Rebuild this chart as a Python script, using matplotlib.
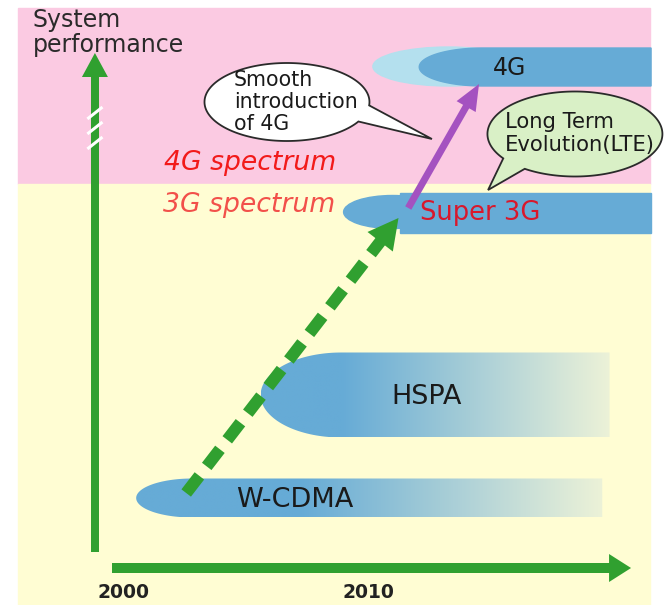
import numpy as np
import matplotlib.pyplot as plt
from matplotlib.patches import Rectangle, Ellipse, Polygon

# -------------------------
# Dados (x em anos, y em "desempenho" arbitrário)
# -------------------------
tech_names = ["W-CDMA", "HSPA", "Super 3G", "4G"]
tech_start = [2000.5, 2005.6, 2009.0, 2012.1]
tech_end = [2019.6, 2019.9, 2021.6, 2021.6]
tech_fade = [2007.2, 2008.9, np.nan, np.nan]
tech_level = [107, 210, 392, 538]
tech_spread = [39, 85, 40, 38]

year_ticks = [2000, 2010]
spectrum_labels = ["4G spectrum", "3G spectrum"]
spectrum_border = 421

# setas de evolução (início -> fim)
wcdma_to_s3g = [(2002.55, 112), (2011.25, 387)]
s3g_to_4g = [(2011.65, 397), (2014.55, 521)]

# cores
BLUE = np.array([0x66, 0xab, 0xd6]) / 255
PALE = np.array([0xec, 0xf2, 0xd8]) / 255
LIGHT = '#b4e0ee'
PINK = '#fbcae2'
YELLOW = '#fffdd3'
GREEN = '#30a030'
PURPLE = '#a452c0'

fig = plt.figure(figsize=(6.64, 6.05), dpi=100)
ax = fig.add_axes([0, 0, 1, 1])
X0, X1 = 1994.92, 2022.13
ax.set_xlim(X0, X1)
ax.set_ylim(0, 605)
ax.axis("off")

# -------------------------
# Fundo (faixas de espectro)
# -------------------------
ax.add_patch(Rectangle((1995.66, spectrum_border), 25.9, 176, color=PINK, zorder=0))
ax.add_patch(Rectangle((1995.66, 0), 25.9, spectrum_border, color=YELLOW, zorder=0))


def rounded_bar(x0, x1, yc, h, cap):
    a = np.linspace(np.pi / 2, 3 * np.pi / 2, 80)
    cx = x0 + cap
    pts = list(zip(cx + cap * np.cos(a), yc + h / 2 * np.sin(a)))
    pts += [(x1, yc - h / 2), (x1, yc + h / 2)]
    return np.array(pts)


def gradient_bar(x0, x1, yc, h, cap, fade):
    poly = Polygon(rounded_bar(x0, x1, yc, h, cap), closed=True, fc='none', ec='none')
    ax.add_patch(poly)
    xs = np.linspace(x0, x1, 300)
    t = np.clip((xs - fade) / (x1 - fade), 0, 1)
    cols = (1 - t)[:, None] * BLUE + t[:, None] * PALE
    img = np.tile(cols[None, :, :], (2, 1, 1))
    im = ax.imshow(img, extent=[x0, x1, yc - h / 2, yc + h / 2], aspect='auto',
                   interpolation='bilinear', zorder=2)
    im.set_clip_path(poly)


def arrow(p0, p1, color, lw_px, head_len, head_w, dashes=None, z=5):
    T = ax.transData
    a = T.transform(p0)
    b = T.transform(p1)
    d = b - a
    u = d / np.hypot(*d)
    n = np.array([-u[1], u[0]])
    base = b - u * head_len
    head = np.array([b, base + n * head_w / 2, base - n * head_w / 2])
    head = T.inverted().transform(head)
    base_d = T.inverted().transform(base + u * 1.0)
    ls = '-' if dashes is None else (0, dashes)
    ax.plot([p0[0], base_d[0]], [p0[1], base_d[1]], color=color, lw=lw_px * 0.72,
            ls=ls, solid_capstyle='butt', dash_capstyle='butt', zorder=z)
    ax.add_patch(Polygon(head, closed=True, fc=color, ec='none', zorder=z))


def bubble(cx, cy, w, h, a1, a2, tip, fc):
    a = np.radians(np.linspace(a2, a1 + 360, 240))
    pts = np.column_stack([cx + w / 2 * np.cos(a), cy + h / 2 * np.sin(a)])
    pts = np.vstack([pts, tip])
    ax.add_patch(Polygon(pts, closed=True, fc=fc, ec='#2a2a2a', lw=1.3, zorder=7))


# -------------------------
# Tecnologias
# -------------------------
# W-CDMA e HSPA com degradê
gradient_bar(tech_start[0], tech_end[0], tech_level[0], tech_spread[0], 2.3, tech_fade[0])
gradient_bar(tech_start[1], tech_end[1], tech_level[1], tech_spread[1], 3.3, tech_fade[1])

# Super 3G: elipse + barra
ax.add_patch(Ellipse((tech_start[2] + 2.0, tech_level[2] + 1), 4.0, 33, color=BLUE, zorder=2))
ax.add_patch(Rectangle((tech_start[2] + 2.3, tech_level[2] - tech_spread[2] / 2),
                       tech_end[2] - tech_start[2] - 2.3, tech_spread[2], color=BLUE, zorder=2))

# 4G: elipse clara + barra arredondada
ax.add_patch(Ellipse((tech_start[3] + 1.2, tech_level[3] + 0.5), 6.2, 39, color=LIGHT, zorder=2))
ax.add_patch(Polygon(rounded_bar(tech_start[3], tech_end[3], tech_level[3], tech_spread[3], 2.6),
                     closed=True, color=BLUE, zorder=3))

ax.text(2007.0, tech_level[0] - 2, tech_names[0], fontsize=19.5, color='#1a1a1a',
        ha='center', va='center', zorder=8)
ax.text(2012.4, tech_level[1] - 2, tech_names[1], fontsize=19.5, color='#1a1a1a',
        ha='center', va='center', zorder=8)
ax.text(2014.6, tech_level[2], tech_names[2], fontsize=18.5, color='#d8182c',
        ha='center', va='center', zorder=8)
ax.text(2015.8, tech_level[3] - 1, tech_names[3], fontsize=17, color='#1a1a1a',
        ha='center', va='center', zorder=8)

# -------------------------
# Eixos desenhados como setas
# -------------------------
arrow((1998.81, 53), (1998.81, 552), GREEN, 8, 24, 26, z=4)
for lvl in [492, 477, 462]:
    ax.plot([1998.55, 1999.07], [lvl - 5, lvl + 5], color='white', lw=2.2, zorder=4.5)
arrow((1999.51, 37), (2020.78, 37), GREEN, 10, 22, 28, z=4)

for yr in year_ticks:
    ax.text(yr, 13, str(yr), fontsize=13.5, fontweight='bold', color='#222222',
            ha='center', va='center')

ax.text(1996.25, 585, "System", fontsize=17, color='#2a2a2a', ha='left', va='center')
ax.text(1996.25, 560, "performance", fontsize=17, color='#2a2a2a', ha='left', va='center')

# rótulos de espectro
ax.text(2001.65, 442, spectrum_labels[0], fontsize=19.2, style='italic', color='#f21a1a',
        ha='left', va='center', zorder=6)
ax.text(2001.6, 400, spectrum_labels[1], fontsize=19.2, style='italic', color='#f2504a',
        ha='left', va='center', zorder=6)

# -------------------------
# Setas de evolução
# -------------------------
arrow(wcdma_to_s3g[0], wcdma_to_s3g[1], GREEN, 12, 30, 32, dashes=(1.8, 1.0), z=5)
arrow(s3g_to_4g[0], s3g_to_4g[1], PURPLE, 7, 26, 22, z=5)

# -------------------------
# Balões
# -------------------------
bubble(2006.68, 503, 6.76, 78, -30, -5, (2012.62, 466), 'white')
for lvl, line in zip([525, 503, 481], ["Smooth", "introduction", "of 4G"]):
    ax.text(2004.5, lvl, line, fontsize=14.8, color='#1a1a1a', ha='left', va='center', zorder=8)

bubble(2018.48, 471, 7.17, 85, 215, 235, (2014.92, 415), '#d9f0c6')
for lvl, line in zip([483, 460], ["Long Term", "Evolution(LTE)"]):
    ax.text(2015.62, lvl, line, fontsize=15.2, color='#1a1a1a', ha='left', va='center', zorder=8)

ax.set_xlim(X0, X1)
ax.set_ylim(0, 605)
fig.savefig("out.png", dpi=100)
